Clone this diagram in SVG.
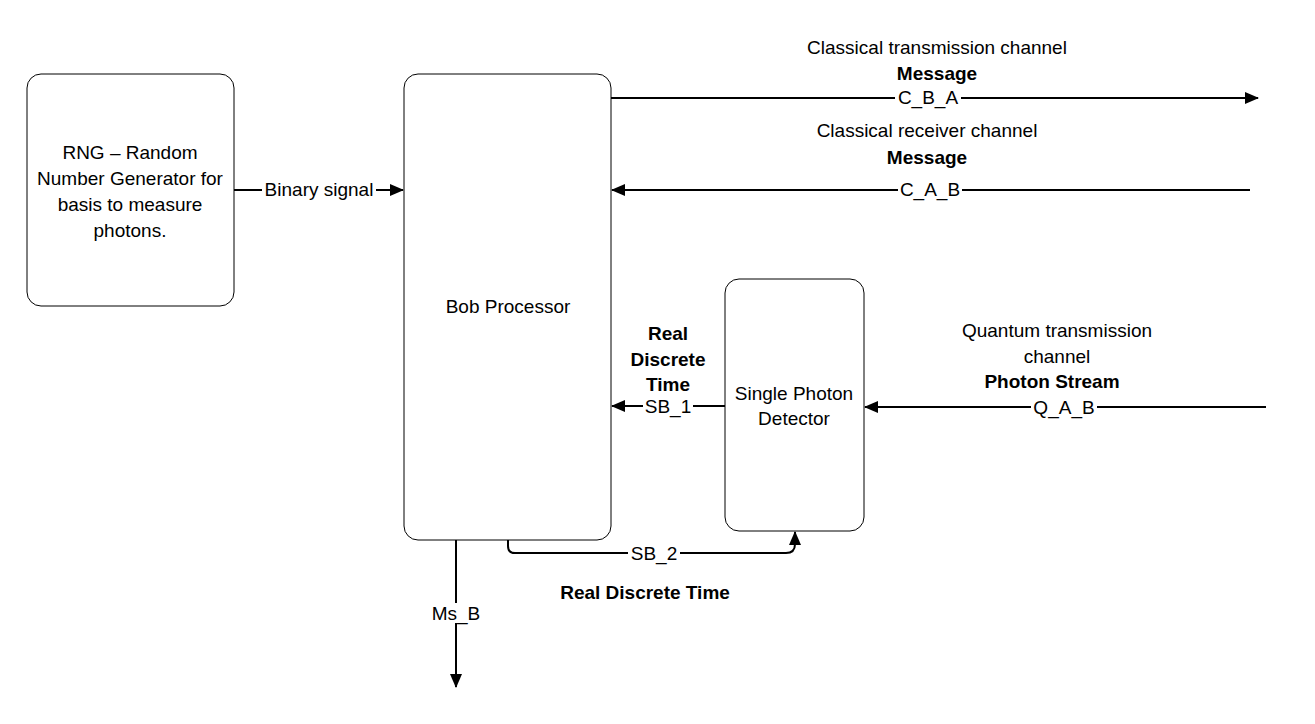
<svg xmlns="http://www.w3.org/2000/svg" width="1315" height="724" viewBox="0 0 1315 724">
<style>
.box{fill:#fff;stroke:#000;stroke-width:1}
.t{font-family:"Liberation Sans",Arial,sans-serif;font-size:19px;fill:#000;text-anchor:middle}
.b{font-weight:bold}
.ln{fill:none;stroke:#000;stroke-width:2}
.bg{fill:#fff}
</style>
<defs>
<marker id="ah" markerUnits="userSpaceOnUse" markerWidth="14" markerHeight="12" refX="13" refY="6" orient="auto">
<path d="M0,0 L14,6 L0,12 Z" fill="#000"/>
</marker>
</defs>
<rect width="1315" height="724" fill="#fff"/>
<g id="connectors">
<path class="ln" d="M234,190 H403" marker-end="url(#ah)"/>
<path class="ln" d="M611,98 H1258" marker-end="url(#ah)"/>
<path class="ln" d="M1250,190 H612" marker-end="url(#ah)"/>
<path class="ln" d="M725,406 H612" marker-end="url(#ah)"/>
<path class="ln" d="M1266,407 H865" marker-end="url(#ah)"/>
<path class="ln" d="M508,540 V546 Q508,553 515,553 H786 Q795,553 795,544 V532" marker-end="url(#ah)"/>
<path class="ln" d="M456,540 V687" marker-end="url(#ah)"/>
<rect class="bg" x="262" y="180" width="114" height="20"/>
<text class="t" x="319" y="196">Binary signal</text>
<rect class="bg" x="895" y="88" width="66" height="20"/>
<text class="t" x="928" y="104">C_B_A</text>
<rect class="bg" x="898" y="180" width="64" height="20"/>
<text class="t" x="930" y="196">C_A_B</text>
<rect class="bg" x="643" y="396" width="50" height="20"/>
<text class="t" x="668" y="413">SB_1</text>
<rect class="bg" x="1031" y="397" width="66" height="20"/>
<text class="t" x="1064" y="414">Q_A_B</text>
<rect class="bg" x="628" y="543" width="52" height="20"/>
<text class="t" x="654" y="560">SB_2</text>
<rect class="bg" x="420" y="603" width="72" height="20"/>
<text class="t" x="456" y="620">Ms_B</text>
<text class="t" x="937" y="54">Classical transmission channel</text>
<text class="t b" x="937" y="80">Message</text>
<text class="t" x="927" y="137">Classical receiver channel</text>
<text class="t b" x="927" y="164">Message</text>
<text class="t b" x="668" y="340">Real</text>
<text class="t b" x="668" y="366">Discrete</text>
<text class="t b" x="668" y="391">Time</text>
<text class="t" x="1057" y="337">Quantum transmission</text>
<text class="t" x="1057" y="363">channel</text>
<text class="t b" x="1052" y="388">Photon Stream</text>
<text class="t b" x="645" y="599">Real Discrete Time</text>
</g>
<g id="rng">
<rect class="box" x="27" y="74" width="207" height="232" rx="14"/>
<text class="t" x="130" y="159">RNG – Random</text>
<text class="t" x="130" y="185">Number Generator for</text>
<text class="t" x="130" y="211">basis to measure</text>
<text class="t" x="130" y="237">photons.</text>
</g>
<g id="bob">
<rect class="box" x="404" y="74" width="207" height="466" rx="14"/>
<text class="t" x="508" y="313">Bob Processor</text>
</g>
<g id="spd">
<rect class="box" x="725" y="279" width="139" height="252" rx="14"/>
<text class="t" x="794" y="400">Single Photon</text>
<text class="t" x="794" y="425">Detector</text>
</g>
</svg>
